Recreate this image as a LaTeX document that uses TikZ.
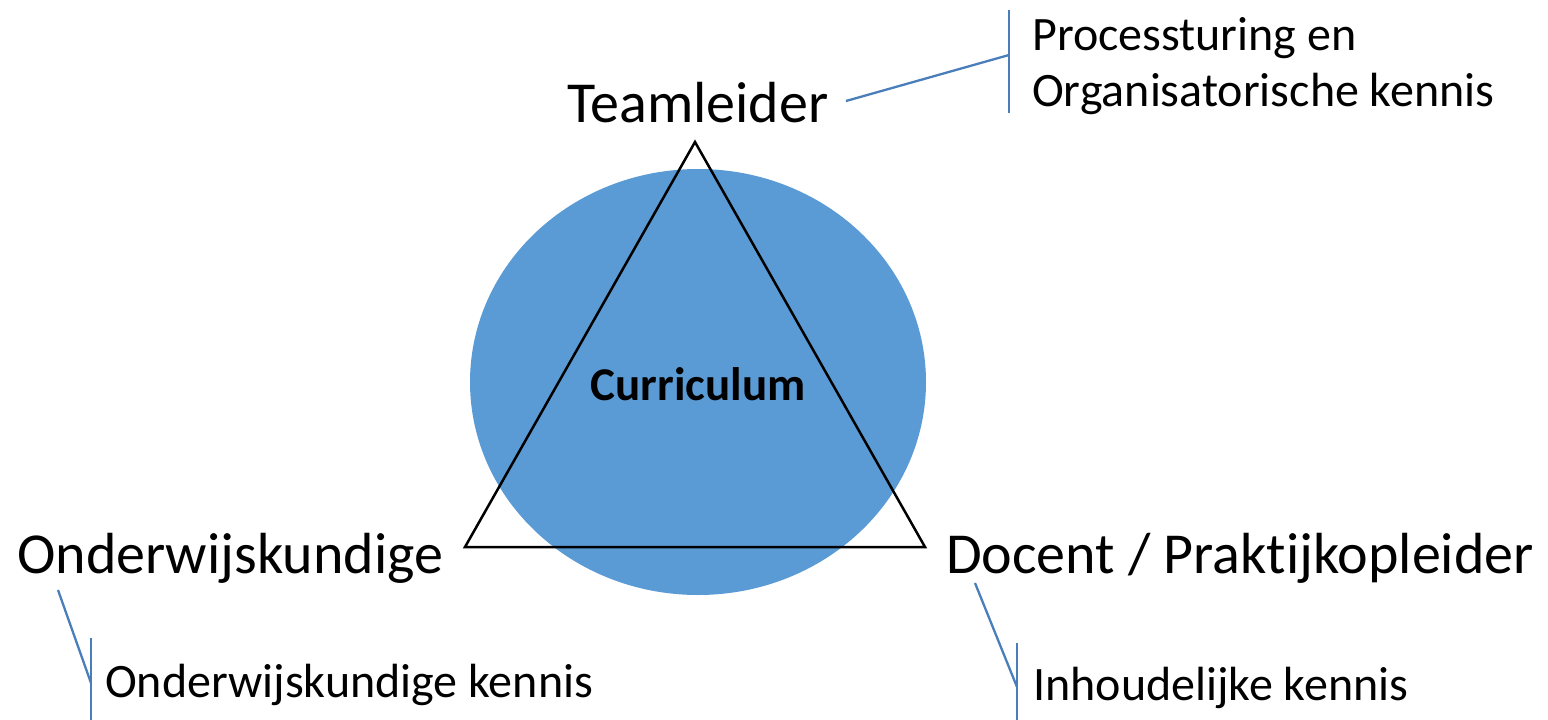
\documentclass[tikz,border=0pt]{standalone}
\usepackage{fontspec}
\setmainfont{Carlito}[RawFeature={-liga;-clig;-dlig;-calt}]
\definecolor{circfill}{HTML}{5B9BD5}
\definecolor{calline}{HTML}{4A7EBB}
\begin{document}
\begin{tikzpicture}[x=1pt,y=-1pt,
  big/.style={font=\fontsize{58}{68}\selectfont, inner sep=0pt, anchor=base west},
  small/.style={font=\fontsize{48}{56}\selectfont, inner sep=0pt, anchor=base west, align=left},
  calbar/.style={draw=calline, line width=2.3pt},
  tri/.style={draw=black, line width=2.5pt, line join=miter}]
\useasboundingbox (0,0) rectangle (1548,720);
\fill[circfill] (698,382) ellipse [x radius=228, y radius=213];
\coordinate (A) at (695,142);
\coordinate (B) at (465,547);
\coordinate (C) at (925,547);
\draw[tri] (A) -- (B) -- (C) -- cycle;
\node[font=\fontsize{47}{56}\selectfont\bfseries, inner sep=0pt, anchor=base] (cur) at (698,400) {Curriculum};
\node[big] (team) at (567,122) {Teamleider};
\node[big] (ond) at (17,573) {Onderwijskundige};
\node[big] (doc) at (946,573) {Docent / Praktijkopleider};
% top right callout
\coordinate (t1) at (846,101);
\coordinate (t2) at (1009,55);
\coordinate (t3) at (1009,10);
\coordinate (t4) at (1009,113);
\draw[calbar] (t1) -- (t2);
\draw[calbar] (t3) -- (t4);
\node[small] (proc) at (1032,50) {Processturing en};
\node[small] (org) at (1032,106) {Organisatorische kennis};
% bottom left callout
\coordinate (l1) at (58,590);
\coordinate (l2) at (91,683);
\coordinate (l3) at (91,638);
\coordinate (l4) at (91,720);
\draw[calbar] (l1) -- (l2);
\draw[calbar] (l3) -- (l4);
\node[small] (ok) at (105,697) {Onderwijskundige kennis};
% bottom right callout
\coordinate (r1) at (975,583);
\coordinate (r2) at (1017,687);
\coordinate (r3) at (1017,643);
\coordinate (r4) at (1017,720);
\draw[calbar] (r1) -- (r2);
\draw[calbar] (r3) -- (r4);
\node[small] (ik) at (1033,700) {Inhoudelijke kennis};
\end{tikzpicture}
\end{document}
